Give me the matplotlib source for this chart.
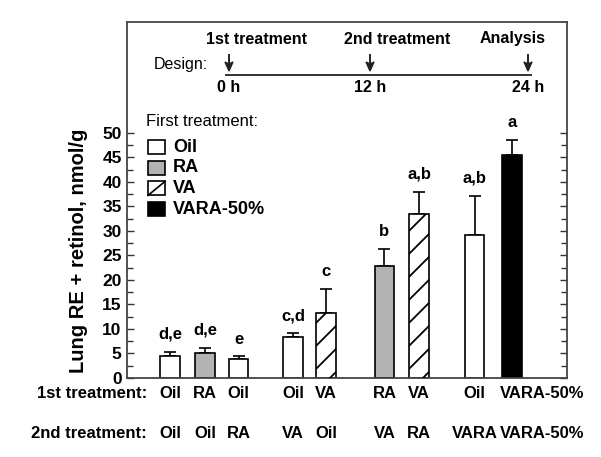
import matplotlib
matplotlib.use("Agg")
import matplotlib.pyplot as plt
import matplotlib.transforms as mtransforms
from matplotlib.patches import Rectangle
from matplotlib.ticker import FixedLocator
import numpy as np

plt.rcParams["font.family"] = ["Liberation Sans", "DejaVu Sans"]

# data
first_treatment = ["Oil", "RA", "Oil", "Oil", "VA", "RA", "VA", "Oil", "VARA-50%"]
second_treatment = ["Oil", "Oil", "RA", "VA", "Oil", "VA", "RA", "VARA", "VARA-50%"]
means = [4.5, 5.1, 3.8, 8.3, 13.3, 22.9, 33.4, 29.1, 45.5]
errors = [0.9, 1.1, 0.6, 0.9, 4.9, 3.4, 4.6, 8.1, 3.1]
letters = ["d,e", "d,e", "e", "c,d", "c", "b", "a,b", "a,b", "a"]
legend_labels = ["Oil", "RA", "VA", "VARA-50%"]

# layout
positions = [0, 1.02, 2.0, 3.59, 4.55, 6.25, 7.26, 8.88, 9.97]
bar_w = 0.57
colors = {"Oil": "white", "RA": "#b3b3b3", "VA": "white", "VARA-50%": "black"}

W, H = 601, 457
fig = plt.figure(figsize=(W / 100, H / 100), dpi=100)
# helper transform: reference pixel coordinates -> figure
PX = mtransforms.Affine2D().scale(1 / W, -1 / H).translate(0, 1) + fig.transFigure

left, right, top, bottom = 126.5, 567, 22, 378
ax = fig.add_axes([left / W, 1 - bottom / H, (right - left) / W, (bottom - top) / H])
ax.set_xlim(-1.27, 11.57)
ax.set_ylim(0, 72.65)

for x, m, e, ft in zip(positions, means, errors, first_treatment):
    bars = ax.bar(x, m, width=bar_w, facecolor=colors[ft], edgecolor="black",
                  linewidth=1.2, zorder=2)
    ax.errorbar(x, m, yerr=[[0], [e]], fmt="none", ecolor="black",
                elinewidth=1.2, capsize=4, capthick=1.2, zorder=1)
    if ft == "VA":
        # wide single-line hatching, clipped to the bar
        rect = bars[0]
        x0, y0 = ax.transData.transform((x - bar_w / 2, 0))
        x1, y1 = ax.transData.transform((x + bar_w / 2, m))
        dx = x1 - x0
        for c in np.arange(y0 - dx + 6, y1, 23):
            ln = plt.Line2D([x0, x1], [c, c + dx], color="black", linewidth=1.3,
                            transform=None, zorder=3)
            ln.set_clip_path(rect)
            fig.add_artist(ln)

for x, m, e, lab in zip(positions, means, errors, letters):
    ax.text(x, m + e + 2.0, lab, ha="center", va="bottom",
            fontsize=12, fontweight="bold")

ax.set_xticks([])
ax.yaxis.set_major_locator(FixedLocator(range(0, 51, 5)))
ax.yaxis.set_minor_locator(FixedLocator([v + 2.5 for v in range(0, 50, 5)]))
ax.tick_params(axis="y", which="both", direction="in", left=True, right=True,
               labelsize=12.5, width=1.0, color="#333333")
ax.tick_params(axis="y", which="major", length=5)
ax.tick_params(axis="y", which="minor", length=4)
for lab in ax.get_yticklabels():
    lab.set_fontweight("bold")
for sp in ax.spines.values():
    sp.set_linewidth(1.3)
    sp.set_color("#444444")

fig.text(78, 251, "Lung RE + retinol, nmol/g", rotation=90, ha="center",
         va="center", fontsize=14.5, fontweight="bold", transform=PX)

# treatment rows under the axis
rowtf = mtransforms.blended_transform_factory(ax.transData, PX)
for x, a, b in zip(positions, first_treatment, second_treatment):
    for lab, yy in [(a, 393), (b, 434)]:
        if lab == "VARA-50%":
            ax.text(x - 0.36, yy, lab, ha="left", va="center", fontsize=12,
                    fontweight="bold", transform=rowtf)
        else:
            ax.text(x, yy, lab, ha="center", va="center", fontsize=12,
                    fontweight="bold", transform=rowtf)
fig.text(147, 393, "1st treatment:", ha="right", va="center", fontsize=12,
         fontweight="bold", transform=PX)
fig.text(147, 434, "2nd treatment:", ha="right", va="center", fontsize=12,
         fontweight="bold", transform=PX)

# design timeline
fig.text(181, 64, "Design:", ha="center", va="center", fontsize=11.5, transform=PX)
fig.add_artist(plt.Line2D([226, 531], [74.5, 74.5], color="#333333",
                          linewidth=1.4, transform=PX))
for xx, name, hr in [(229, "1st treatment", "0 h"), (370, "2nd treatment", "12 h"),
                     (528, "Analysis", "24 h")]:
    fig.text(xx, 88, hr, ha="center", va="center", fontsize=11.5,
             fontweight="bold", transform=PX)
    fig.add_artist(plt.Line2D([xx, xx], [55, 66], color="#222222",
                              linewidth=1.4, transform=PX))
    fig.add_artist(plt.Polygon([[xx - 4, 62], [xx, 64], [xx + 4, 62], [xx, 71]],
                               closed=True, color="#222222", transform=PX))
fig.text(257, 39, "1st treatment", ha="center", va="center", fontsize=11.5,
         fontweight="bold", transform=PX)
fig.text(397, 39, "2nd treatment", ha="center", va="center", fontsize=11.5,
         fontweight="bold", transform=PX)
fig.text(513, 39, "Analysis", ha="center", va="center", fontsize=11.5,
         fontweight="bold", transform=PX)

# legend
fig.text(146, 122, "First treatment:", ha="left", va="center", fontsize=12,
         transform=PX)
for i, lab in enumerate(legend_labels):
    y0 = 140 + i * 20.7
    fig.add_artist(Rectangle((148, y0), 17, 14, facecolor=colors[lab],
                             edgecolor="black", linewidth=1.2, transform=PX))
    if lab == "VA":
        fig.add_artist(plt.Line2D([148, 165], [y0 + 14, y0], color="black",
                                  linewidth=1.2, transform=PX))
    fig.text(173, y0 + 7, lab, ha="left", va="center", fontsize=13,
             fontweight="bold", transform=PX)

fig.savefig("out.png", dpi=100)
